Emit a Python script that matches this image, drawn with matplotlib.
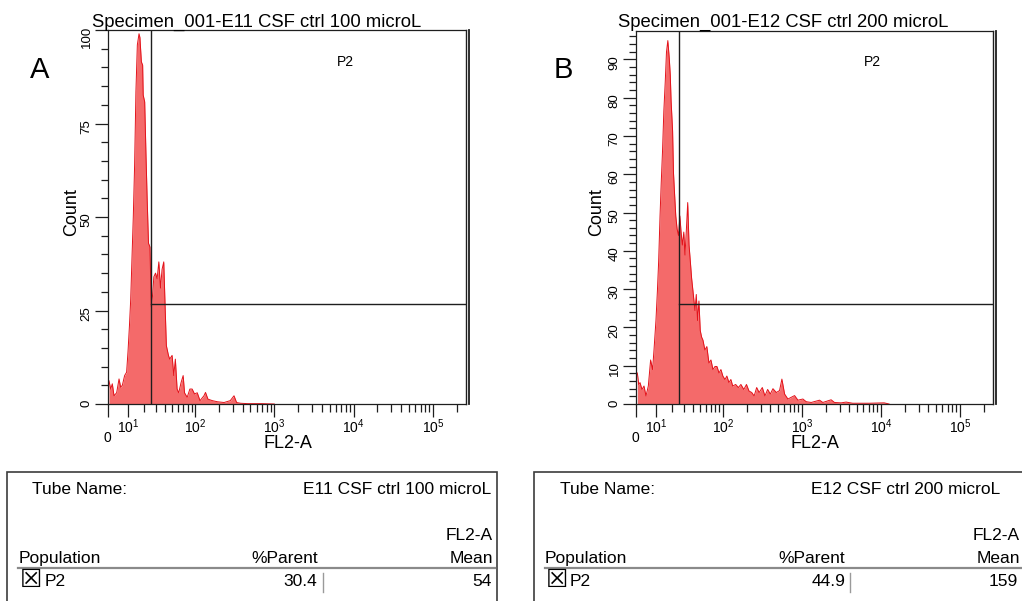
import numpy as np
import matplotlib
matplotlib.use('Agg')
import matplotlib.pyplot as plt
from matplotlib.patches import Rectangle
from matplotlib.lines import Line2D
from matplotlib.ticker import MultipleLocator

plt.rcParams['font.family'] = ['Liberation Sans', 'DejaVu Sans']
plt.rcParams['mathtext.fontset'] = 'custom'
plt.rcParams['mathtext.rm'] = 'Liberation Sans'
plt.rcParams['mathtext.it'] = 'Liberation Sans:italic'
plt.rcParams['mathtext.bf'] = 'Liberation Sans:bold'

W, H = 1022, 601

# histogram (FL2-A value, count)
fl2_a = [0.46, 1.24, 2.0, 2.8, 4.05, 5.2, 6.0, 6.85, 8.0, 9.05, 9.8, 10.6, 11.3, 12.1, 12.8,
         13.6, 14.4, 15.3, 16.4, 17.0, 18.0, 18.9, 19.3, 20.4, 21.4, 22.3, 23.4, 24.6, 25.8,
         26.9, 28.1, 29.7, 31.3, 33.1, 34.9, 36.7, 38.7, 40.4, 42.0, 44.8, 46.6, 50.1, 52.7,
         55.3, 58.3, 61.2, 65.8, 69.9, 72.8, 78.8, 85.3, 91.2, 97.7, 106, 115, 129, 135, 145,
         165, 191, 232, 278, 310, 334, 376, 457, 700, 1000]
count_a = [6.2, 4.0, 5.4, 2.2, 3.0, 6.7, 4.5, 5.0, 7.6, 8.5, 14, 21, 28, 40, 50,
           64, 83.5, 96, 99, 98, 91.5, 90.6, 82.6, 80.8, 66.5, 55, 43, 42, 26,
           29, 34, 35, 33.5, 38, 31, 36, 38, 26, 15.6, 13, 12, 13, 7.6,
           12, 4, 3, 5.8, 7.6, 3, 1.8, 4, 4, 2.7, 3, 0.9, 2.2, 3.1, 1.3,
           0.9, 0.6, 0.4, 0.9, 2.2, 0.4, 0.2, 0.1, 0.1, 0]

fl2_b = [0.62, 1.24, 1.86, 2.8, 3.75, 4.7, 5.85, 7.0, 8.0, 8.75, 9.8, 10.6, 11.3, 12.1, 12.8,
         13.6, 14.4, 15.3, 16.1, 17.0, 18.0, 18.7, 19.3, 20.4, 21.1, 21.9, 22.9, 24.0, 25.2,
         26.4, 27.5, 28.7, 30.1, 31.3, 32.8, 34.2, 35.7, 37.2, 38.7, 40.4, 43.0, 44.8, 46.6,
         48.6, 50.6, 52.7, 54.9, 58.3, 61.8, 65.8, 69.9, 74.2, 78.8, 83.6, 88.8, 94.0, 99.5,
         106, 112, 119, 126, 133, 145, 157, 169, 184, 199, 214, 232, 249, 268, 288, 316, 341,
         369, 399, 431, 475, 522, 559, 605, 666, 809, 892, 1031, 1136, 1314, 1675, 1843, 2347,
         2587, 3140, 3630, 4400, 7130, 11000, 12700]
count_b = [8.1, 5.1, 5.6, 3.8, 4.7, 2.1, 4.7, 11.5, 9.0, 14.1, 21.8, 29.5, 37.2, 49.1, 57.7,
           66.2, 76.5, 84.2, 91.9, 94.9, 90.2, 85.9, 79.1, 71.4, 60.3, 55.1, 49.1, 45.7, 44,
           49.1, 44.9, 41.5, 44.9, 38.9, 45.7, 52.6, 41.5, 37.2, 32.9, 29.5, 24.4, 28.6, 21.8,
           26.9, 19.2, 17.5, 16.7, 14.1, 15, 10.7, 11.5, 9, 9.8, 9.8, 8.1, 9, 7.3,
           6.4, 7.3, 5.6, 6.4, 4.7, 5.1, 4.3, 5.1, 3.8, 5.1, 3.4, 3, 2.1, 4.3, 3, 4.3, 2.1,
           3.8, 2.6, 4, 3, 3.5, 6.5, 2.6, 1.3, 2.2, 1.0, 1.3, 0.6, 0.4, 1.0, 0.4, 1.1,
           0.4, 0.3, 0.5, 0.2, 0.2, 0.3, 0]

titles = ['Specimen_001-E11 CSF ctrl 100 microL', 'Specimen_001-E12 CSF ctrl 200 microL']
letters = ['A', 'B']
tube_names = ['E11 CSF ctrl 100 microL', 'E12 CSF ctrl 200 microL']
pct_parent = ['30.4', '44.9']
fl2_mean = ['54', '159']
gate_name = 'P2'
gate_low = 25.3
gate_count = [26.7, 26.0]
y_max = [100, 97.4]
y_major = [25, 10]
y_minor = [5, 2]
FL2_MAX = 262143

FILL = '#f46a6a'
EDGE = '#e3121a'
LINE = '#1e1e1e'


def fwd(x):
    return np.arcsinh(np.asarray(x, dtype=float) / 15.95) / np.log(10)


def inv(y):
    return 15.95 * np.sinh(np.asarray(y, dtype=float) * np.log(10))


def fx(px):
    return px / W


def fy(py):
    return 1 - py / H


fig = plt.figure(figsize=(W / 100, H / 100), dpi=100)


def panel(rect, x, y, k, lay):
    l, t, r, b = rect
    ax = fig.add_axes([fx(l), fy(b), (r - l) / W, (b - t) / H])
    ax.set_xscale('function', functions=(fwd, inv))
    ax.fill_between(x, y, 0, color=FILL, lw=0, zorder=1)
    ax.plot(x, y, color=EDGE, lw=0.7, zorder=2)
    ax.set_xlim(0, FL2_MAX)
    ax.set_ylim(0, y_max[k])

    # gate P2
    ax.axvline(gate_low, color=LINE, lw=1.0, zorder=3)
    ax.plot([gate_low, FL2_MAX], [gate_count[k], gate_count[k]], color=LINE, lw=1.0, zorder=3)
    ax.axvline(FL2_MAX, color=LINE, lw=1.0, zorder=3, clip_on=False)

    for s in ax.spines.values():
        s.set_linewidth(0.9)
        s.set_color(LINE)
    ax.spines['right'].set_position(('outward', 2))
    ax.spines['right'].set_linewidth(1.3)

    major = [0, 1e1, 1e2, 1e3, 1e4, 1e5]
    ax.set_xticks(major, labels=['', '$10^{1}$', '$10^{2}$', '$10^{3}$', '$10^{4}$', '$10^{5}$'])
    minor = [m * 10 ** e for e in range(1, 5) for m in range(2, 10)] + [2e5]
    ax.set_xticks(minor, minor=True)
    ax.tick_params(axis='x', which='major', length=9, width=0.9, labelsize=10, pad=1.0,
                   color=LINE)
    ax.tick_params(axis='x', which='minor', length=5.5, width=0.9, color=LINE)
    ax.annotate('0', xy=(0, 0), xycoords=('data', 'axes fraction'), xytext=(-1, -34),
                textcoords='offset pixels', ha='center', va='center', fontsize=10)

    ax.yaxis.set_major_locator(MultipleLocator(y_major[k]))
    ax.yaxis.set_minor_locator(MultipleLocator(y_minor[k]))
    ax.tick_params(axis='y', which='major', length=9.5, width=0.9, labelsize=9.5,
                   labelrotation=90, pad=1.5, color=LINE)
    ax.tick_params(axis='y', which='minor', length=4.8, width=0.9, color=LINE)

    ax.text((lay['p2'][0] - l) / (r - l), (b - lay['p2'][1]) / (b - t), gate_name,
            transform=ax.transAxes, ha='center', va='center', fontsize=10)
    fig.text(fx(lay['count']), fy(212), 'Count', rotation=90, ha='center', va='center',
             fontsize=13)
    fig.text(fx(lay['xlab']), fy(448), 'FL2-A', ha='center', va='baseline', fontsize=13)
    fig.text(fx(lay['title']), fy(26.5), titles[k], ha='left', va='baseline', fontsize=13.3)
    fig.text(fx(lay['letter']), fy(78), letters[k], ha='center', va='baseline', fontsize=21)
    return ax


def table(k, t):
    box = Rectangle((fx(t['box'][0]), fy(640)), (t['box'][1] - t['box'][0]) / W,
                    (640 - 471.7) / H, transform=fig.transFigure, fill=False,
                    edgecolor='#3c3c3c', lw=1.2)
    fig.patches.append(box)
    fs = 12.5
    fig.text(fx(t['tube']), fy(494.5), 'Tube Name:', ha='left', va='baseline', fontsize=fs)
    fig.text(fx(t['tube_val']), fy(494.5), tube_names[k], ha='right', va='baseline', fontsize=fs)
    fig.text(fx(t['mean']), fy(539.5), 'FL2-A', ha='right', va='baseline', fontsize=fs)
    fig.text(fx(t['pop']), fy(563), 'Population', ha='left', va='baseline', fontsize=fs)
    fig.text(fx(t['pct']), fy(563), '%Parent', ha='right', va='baseline', fontsize=fs)
    fig.text(fx(t['mean']), fy(563), 'Mean', ha='right', va='baseline', fontsize=fs)
    fig.lines.append(Line2D([fx(t['pop']), fx(t['rule_end'])], [fy(568.3), fy(568.3)],
                            transform=fig.transFigure, color='#8a8a8a', lw=1.6))
    fig.text(fx(t['check']), fy(580), '\u2612', ha='center', va='center', fontsize=18,
             family='DejaVu Sans')
    fig.text(fx(t['p2']), fy(586.5), gate_name, ha='left', va='baseline', fontsize=fs)
    fig.text(fx(t['pct_val']), fy(586.5), pct_parent[k], ha='right', va='baseline', fontsize=fs)
    fig.lines.append(Line2D([fx(t['bar']), fx(t['bar'])], [fy(573), fy(592)],
                            transform=fig.transFigure, color='#9a9a9a', lw=1.0))
    fig.text(fx(t['mean_val']), fy(586.5), fl2_mean[k], ha='right', va='baseline', fontsize=fs)


panel((108, 30, 466, 404), fl2_a, count_a, 0,
      dict(p2=(345, 62), count=72, xlab=288, title=92, letter=39.5))
panel((636, 31, 993, 404), fl2_b, count_b, 1,
      dict(p2=(872, 62), count=597, xlab=815, title=618, letter=563))

table(0, dict(box=(7.3, 497), tube=31.7, tube_val=491.7, mean=492.7, pop=18.3, pct=318.3,
              rule_end=495, check=30.8, p2=45, pct_val=316.7, bar=322.7, mean_val=491.7))
table(1, dict(box=(534, 1040), tube=560, tube_val=1000, mean=1020, pop=545, pct=845,
              rule_end=1022, check=556.5, p2=570, pct_val=845, bar=850, mean_val=1018))

plt.savefig('out.png', dpi=100)
